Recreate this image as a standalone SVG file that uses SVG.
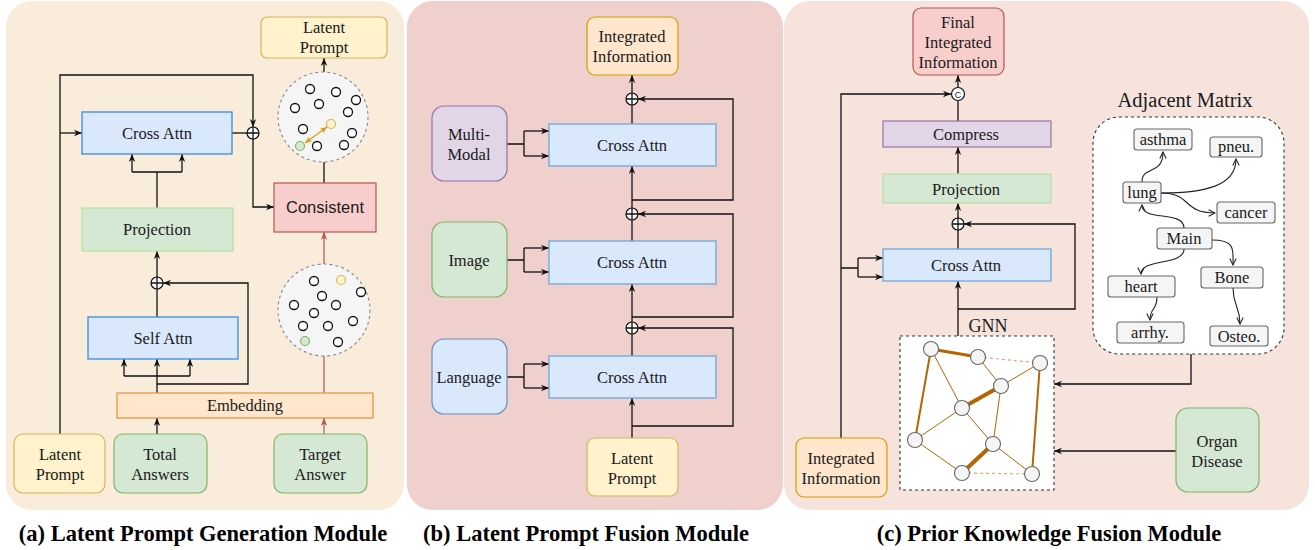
<svg xmlns="http://www.w3.org/2000/svg" width="1315" height="550" viewBox="0 0 1315 550">
<defs>
<marker id="ar" viewBox="0 0 10 10" refX="10" refY="5" markerWidth="8" markerHeight="8" markerUnits="userSpaceOnUse" orient="auto"><path d="M0,1 L10,5 L0,9 L3,5 z" fill="#111"/></marker>
<marker id="arr" viewBox="0 0 10 10" refX="10" refY="5" markerWidth="8" markerHeight="8" markerUnits="userSpaceOnUse" orient="auto"><path d="M0,1 L10,5 L0,9 L3,5 z" fill="#b85450"/></marker>
<marker id="aro" viewBox="0 0 10 10" refX="9" refY="5" markerWidth="8" markerHeight="8" markerUnits="userSpaceOnUse" orient="auto"><path d="M1,1 L9,5 L1,9" fill="none" stroke="#222" stroke-width="1.3"/></marker>
<marker id="arg" viewBox="0 0 10 10" refX="10" refY="5" markerWidth="7" markerHeight="7" markerUnits="userSpaceOnUse" orient="auto"><path d="M0,1 L10,5 L0,9 L3,5 z" fill="#d99a10"/></marker>
<marker id="args" viewBox="0 0 10 10" refX="10" refY="5" markerWidth="7" markerHeight="7" markerUnits="userSpaceOnUse" orient="auto-start-reverse"><path d="M0,1 L10,5 L0,9 L3,5 z" fill="#d99a10"/></marker>
</defs>
<style>
text{font-family:"Liberation Serif","Times New Roman",serif;font-size:16.5px;fill:#1a1a1a;text-anchor:middle}
.sans{font-family:"Liberation Sans",Arial,sans-serif}
.title{font-weight:bold;font-size:22.5px;fill:#000}
.ln{fill:none;stroke:#111;stroke-width:1.3}
.lnr{fill:none;stroke:#b85450;stroke-width:1.2}
.blue{fill:#dae8fc;stroke:#3d8ae0;stroke-width:1.3}
.blue2{fill:#dae8fc;stroke:#6ea6e0;stroke-width:1.3}
.lblue{fill:#dae8fc;stroke:#6c8ebf;stroke-width:1.2}
.green{fill:#d5e8d4;stroke:#82b366;stroke-width:1.2}
.pgreen{fill:#d5e8d4;stroke:#b9e0a5;stroke-width:1.3}
.yellow{fill:#fff2cc;stroke:#d6b656;stroke-width:1.2}
.orange{fill:#ffe6cc;stroke:#d79b00;stroke-width:1.2}
.red{fill:#f8cecc;stroke:#b85450;stroke-width:1.2}
.purple{fill:#e1d5e7;stroke:#9673a6;stroke-width:1.2}
.op{fill:#fff;stroke:#111;stroke-width:1.2}
.cl{fill:#f5f5f5;stroke:#888;stroke-width:1.1;stroke-dasharray:3 3}
.dot{fill:#fff;stroke:#111;stroke-width:1.3}
.gn{fill:#f5f5f5;stroke:#666;stroke-width:1.1}
.ge{stroke:#b46504;fill:none}
.gd{stroke:#e0a86a;stroke-width:1.2;stroke-dasharray:3 3;fill:none}
.ab{fill:#f5f5f5;stroke:#666;stroke-width:1.1}
.ac{fill:none;stroke:#222;stroke-width:1.1}
</style>

<!-- panels -->
<g id="panels">
<rect x="6" y="1" width="398" height="509" rx="26" fill="#f9ecda"/>
<rect x="407" y="1" width="376" height="509" rx="26" fill="#efd0cd"/>
<rect x="784" y="1" width="525" height="509" rx="26" fill="#f5e3dc"/>
</g>

<!-- connectors -->
<g id="connectors">
<!-- panel a -->
<path class="ln" d="M60,435 V75 H253 V127" marker-end="url(#ar)"/>
<path class="ln" d="M60,133 H82" marker-end="url(#ar)"/>
<path class="ln" d="M232,133 H247"/>
<path class="ln" d="M253,139 V207 H274" marker-end="url(#ar)"/>
<path class="ln" d="M157,208 V172 M132,172 H182"/>
<path class="ln" d="M132,172 V154" marker-end="url(#ar)"/>
<path class="ln" d="M182,172 V154" marker-end="url(#ar)"/>
<path class="ln" d="M324,183 V162"/>
<path class="ln" d="M324,72 V58" marker-end="url(#ar)"/>
<path class="ln" d="M157,277 V251" marker-end="url(#ar)"/>
<path class="ln" d="M157,317 V289"/>
<path class="ln" d="M157,384 H248 V283 H163" marker-end="url(#ar)"/>
<path class="ln" d="M157,393 V376 M124,376 H190"/>
<path class="ln" d="M124,376 V359" marker-end="url(#ar)"/>
<path class="ln" d="M157,376 V359" marker-end="url(#ar)"/>
<path class="ln" d="M190,376 V359" marker-end="url(#ar)"/>
<path class="ln" d="M157,434 V418" marker-end="url(#ar)"/>
<path class="lnr" d="M324,434 V418" marker-end="url(#arr)"/>
<path class="lnr" d="M324,393 V356"/>
<path class="lnr" d="M324,264 V232" marker-end="url(#arr)"/>
<!-- panel b -->
<path class="ln" d="M632,93 V75" marker-end="url(#ar)"/>
<path class="ln" d="M632,124 V105"/>
<path class="ln" d="M632,200 H733 V99 H638" marker-end="url(#ar)"/>
<path class="ln" d="M632,208 V166" marker-end="url(#ar)"/>
<path class="ln" d="M632,241 V220"/>
<path class="ln" d="M632,317 H733 V214 H638" marker-end="url(#ar)"/>
<path class="ln" d="M632,322 V284" marker-end="url(#ar)"/>
<path class="ln" d="M632,356 V334"/>
<path class="ln" d="M632,426 H733 V328 H638" marker-end="url(#ar)"/>
<path class="ln" d="M632,438 V398" marker-end="url(#ar)"/>
<path class="ln" d="M507,144 H524 M524,131 V156"/>
<path class="ln" d="M524,131 H549" marker-end="url(#ar)"/>
<path class="ln" d="M524,156 H549" marker-end="url(#ar)"/>
<path class="ln" d="M507,260 H524 M524,248 V272"/>
<path class="ln" d="M524,248 H549" marker-end="url(#ar)"/>
<path class="ln" d="M524,272 H549" marker-end="url(#ar)"/>
<path class="ln" d="M507,377 H524 M524,364 V388"/>
<path class="ln" d="M524,364 H549" marker-end="url(#ar)"/>
<path class="ln" d="M524,388 H549" marker-end="url(#ar)"/>
<!-- panel c -->
<path class="ln" d="M958,88 V75" marker-end="url(#ar)"/>
<path class="ln" d="M958,121 V101"/>
<path class="ln" d="M841,438 V94 H951" marker-end="url(#ar)"/>
<path class="ln" d="M841,268 H858 M858,258 V277"/>
<path class="ln" d="M858,258 H883" marker-end="url(#ar)"/>
<path class="ln" d="M858,277 H883" marker-end="url(#ar)"/>
<path class="ln" d="M958,174 V147" marker-end="url(#ar)"/>
<path class="ln" d="M958,218 V203" marker-end="url(#ar)"/>
<path class="ln" d="M958,249 V230"/>
<path class="ln" d="M958,309 H1075 V224 H964" marker-end="url(#ar)"/>
<path class="ln" d="M958,336 V281" marker-end="url(#ar)"/>
<path class="ln" d="M1191,354 V384 H1054" marker-end="url(#ar)"/>
<path class="ln" d="M1176,451 H1054" marker-end="url(#ar)"/>
</g>

<!-- panel a nodes -->
<g id="a-latent-top"><rect class="yellow" x="261" y="17" width="126" height="41" rx="6"/><text x="324" y="33">Latent</text><text x="324" y="53">Prompt</text></g>
<g id="a-cross-attn"><rect class="blue" x="82" y="112" width="150" height="42"/><text x="157" y="139">Cross Attn</text></g>
<g id="a-oplus1"><circle class="op" cx="253" cy="133" r="6"/><path class="ln" d="M247,133 H259 M253,127 V139"/></g>
<g id="a-projection"><rect class="pgreen" x="82" y="208" width="151" height="43"/><text x="157" y="235">Projection</text></g>
<g id="a-consistent"><rect class="red" x="274" y="183" width="102" height="49"/><text class="sans" x="325" y="213">Consistent</text></g>
<g id="a-cluster-top">
<circle class="cl" cx="323" cy="117" r="45"/>
<circle class="dot" cx="310" cy="89" r="4.5"/><circle class="dot" cx="336" cy="92" r="4.5"/><circle class="dot" cx="356" cy="100" r="4.5"/>
<circle class="dot" cx="319" cy="104" r="4.5"/><circle class="dot" cx="295" cy="108" r="4.5"/><circle class="dot" cx="348" cy="112" r="4.5"/>
<circle class="dot" cx="303" cy="129" r="4.5"/><circle class="dot" cx="352" cy="133" r="4.5"/><circle class="dot" cx="317" cy="146" r="4.5"/><circle class="dot" cx="344" cy="145" r="4.5"/>
<circle cx="331" cy="124" r="4.5" fill="#fff2cc" stroke="#d6b656" stroke-width="1.2"/>
<circle cx="300" cy="146" r="4.5" fill="#d5e8d4" stroke="#82b366" stroke-width="1.2"/>
<path d="M305,143 L327,127" stroke="#d99a10" stroke-width="1.2" fill="none" marker-start="url(#args)" marker-end="url(#arg)"/>
</g>
<g id="a-oplus2"><circle class="op" cx="157" cy="283" r="6"/><path class="ln" d="M151,283 H163 M157,277 V289"/></g>
<g id="a-self-attn"><rect class="blue" x="88" y="317" width="150" height="42"/><text x="163" y="344">Self Attn</text></g>
<g id="a-embedding"><rect x="117" y="393" width="256" height="25" fill="#ffe6cc" stroke="#e0923a" stroke-width="1.2"/><text x="245" y="411">Embedding</text></g>
<g id="a-cluster-bottom">
<circle class="cl" cx="324" cy="310" r="46"/>
<circle class="dot" cx="314" cy="281" r="4.5"/><circle class="dot" cx="361" cy="292" r="4.5"/><circle class="dot" cx="322" cy="296" r="4.5"/>
<circle class="dot" cx="294" cy="305" r="4.5"/><circle class="dot" cx="336" cy="305" r="4.5"/><circle class="dot" cx="314" cy="313" r="4.5"/>
<circle class="dot" cx="353" cy="321" r="4.5"/><circle class="dot" cx="303" cy="326" r="4.5"/><circle class="dot" cx="328" cy="326" r="4.5"/><circle class="dot" cx="338" cy="342" r="4.5"/>
<circle cx="341" cy="280" r="4.5" fill="#fff2cc" stroke="#d6b656" stroke-width="1.2"/>
<circle cx="305" cy="341" r="4.5" fill="#d5e8d4" stroke="#82b366" stroke-width="1.2"/>
</g>
<g id="a-latent-bottom"><rect class="yellow" x="14" y="434" width="91" height="59" rx="9"/><text x="60" y="460">Latent</text><text x="60" y="480">Prompt</text></g>
<g id="a-total-answers"><rect class="green" x="114" y="434" width="93" height="59" rx="9"/><text x="160" y="460">Total</text><text x="160" y="480">Answers</text></g>
<g id="a-target-answer"><rect class="green" x="274" y="434" width="93" height="59" rx="9"/><text x="320" y="460">Target</text><text x="320" y="480">Answer</text></g>

<!-- panel b nodes -->
<g id="b-integrated"><rect class="orange" x="587" y="17" width="91" height="58" rx="8"/><text x="632" y="42">Integrated</text><text x="632" y="62">Information</text></g>
<g id="b-oplus1"><circle class="op" cx="632" cy="99" r="6"/><path class="ln" d="M626,99 H638 M632,93 V105"/></g>
<g id="b-cross1"><rect class="blue2" x="549" y="124" width="167" height="42"/><text x="632" y="151">Cross Attn</text></g>
<g id="b-multimodal"><rect class="purple" x="432" y="106" width="75" height="75" rx="12"/><text x="469" y="140">Multi-</text><text x="469" y="160">Modal</text></g>
<g id="b-oplus2"><circle class="op" cx="632" cy="214" r="6"/><path class="ln" d="M626,214 H638 M632,208 V220"/></g>
<g id="b-cross2"><rect class="blue2" x="549" y="241" width="167" height="43"/><text x="632" y="268">Cross Attn</text></g>
<g id="b-image"><rect class="green" x="432" y="222" width="75" height="75" rx="12"/><text x="469" y="266">Image</text></g>
<g id="b-oplus3"><circle class="op" cx="632" cy="328" r="6"/><path class="ln" d="M626,328 H638 M632,322 V334"/></g>
<g id="b-cross3"><rect class="blue2" x="549" y="356" width="167" height="42"/><text x="632" y="383">Cross Attn</text></g>
<g id="b-language"><rect class="lblue" x="432" y="339" width="75" height="75" rx="12"/><text x="469" y="383">Language</text></g>
<g id="b-latent"><rect class="yellow" x="587" y="438" width="91" height="58" rx="8"/><text x="632" y="464">Latent</text><text x="632" y="484">Prompt</text></g>

<!-- panel c nodes -->
<g id="c-final"><rect class="red" x="913" y="8" width="91" height="67" rx="8"/><text x="958" y="28">Final</text><text x="958" y="48">Integrated</text><text x="958" y="68">Information</text></g>
<g id="c-concat"><circle class="op" cx="958" cy="94" r="6.5"/><text class="sans" x="958" y="97.5" style="font-size:9px">C</text></g>
<g id="c-compress"><rect class="purple" x="883" y="121" width="168" height="26"/><text x="966" y="140">Compress</text></g>
<g id="c-projection"><rect class="pgreen" x="883" y="174" width="168" height="29"/><text x="966" y="195">Projection</text></g>
<g id="c-oplus"><circle class="op" cx="958" cy="224" r="6"/><path class="ln" d="M952,224 H964 M958,218 V230"/></g>
<g id="c-cross"><rect class="blue2" x="883" y="249" width="168" height="32"/><text x="966" y="271">Cross Attn</text></g>
<g id="c-gnn">
<text x="988" y="332" style="font-size:18px">GNN</text>
<rect x="900" y="336" width="154" height="154" fill="#fff" stroke="#333" stroke-width="1.1" stroke-dasharray="3 3"/>
<path class="ge" stroke-width="3" d="M931,349 L978,357"/>
<path class="gd" d="M978,357 L1040,363"/>
<path class="ge" stroke-width="1" d="M978,357 L1001,386"/>
<path class="ge" stroke-width="2" d="M931,349 L915,440"/>
<path class="ge" stroke-width="1" d="M931,349 L962,408"/>
<path class="ge" stroke-width="1" d="M1001,386 L1040,363"/>
<path class="ge" stroke-width="4" d="M1001,386 L962,408"/>
<path class="ge" stroke-width="1" d="M1001,386 L993,444"/>
<path class="ge" stroke-width="2" d="M1040,363 L1032,474"/>
<path class="ge" stroke-width="1" d="M962,408 L915,440"/>
<path class="ge" stroke-width="1" d="M962,408 L993,444"/>
<path class="ge" stroke-width="1" d="M915,440 L962,473"/>
<path class="ge" stroke-width="4" d="M993,444 L962,473"/>
<path class="ge" stroke-width="1" d="M993,444 L1032,474"/>
<path class="gd" d="M962,473 L1032,474"/>
<circle class="gn" cx="931" cy="349" r="7.5"/><circle class="gn" cx="978" cy="357" r="7.5"/><circle class="gn" cx="1040" cy="363" r="7.5"/>
<circle class="gn" cx="1001" cy="386" r="7.5"/><circle class="gn" cx="962" cy="408" r="7.5"/><circle class="gn" cx="915" cy="440" r="7.5"/>
<circle class="gn" cx="993" cy="444" r="7.5"/><circle class="gn" cx="962" cy="473" r="7.5"/><circle class="gn" cx="1032" cy="474" r="7.5"/>
</g>
<g id="c-adjacent">
<text x="1185" y="107" style="font-size:20.5px">Adjacent Matrix</text>
<rect x="1093" y="117" width="191" height="237" rx="26" fill="#fff" stroke="#333" stroke-width="1.1" stroke-dasharray="3 3"/>
<path class="ac" d="M1142,182 C1142,165 1163,176 1163,152" marker-end="url(#aro)"/>
<path class="ac" d="M1161,193 C1205,193 1236,186 1236,159" marker-end="url(#aro)"/>
<path class="ac" d="M1161,193 C1192,193 1182,213 1215,213" marker-end="url(#aro)"/>
<path class="ac" d="M1184,228 C1184,210 1142,222 1142,205" marker-end="url(#aro)"/>
<path class="ac" d="M1184,249 C1184,266 1141,258 1141,274" marker-end="url(#aro)"/>
<path class="ac" d="M1212,240 C1236,240 1233,250 1233,265" marker-end="url(#aro)"/>
<path class="ac" d="M1157,297 C1157,311 1150,307 1150,320" marker-end="url(#aro)"/>
<path class="ac" d="M1233,288 C1233,306 1240,306 1240,324" marker-end="url(#aro)"/>
<rect class="ab" x="1134" y="129" width="58" height="21" rx="3"/><text x="1163" y="145">asthma</text>
<rect class="ab" x="1210" y="137" width="52" height="20" rx="3"/><text x="1236" y="152">pneu.</text>
<rect class="ab" x="1123" y="182" width="38" height="21" rx="3"/><text x="1142" y="198">lung</text>
<rect class="ab" x="1217" y="202" width="58" height="21" rx="3"/><text x="1246" y="218">cancer</text>
<rect class="ab" x="1157" y="228" width="55" height="21" rx="3"/><text x="1184" y="244">Main</text>
<rect class="ab" x="1108" y="276" width="67" height="21" rx="3"/><text x="1141" y="292">heart</text>
<rect class="ab" x="1201" y="267" width="62" height="21" rx="3"/><text x="1232" y="283">Bone</text>
<rect class="ab" x="1117" y="322" width="67" height="21" rx="3"/><text x="1150" y="338">arrhy.</text>
<rect class="ab" x="1210" y="326" width="58" height="20" rx="3"/><text x="1239" y="342">Osteo.</text>
</g>
<g id="c-integrated"><rect class="orange" x="796" y="438" width="91" height="59" rx="8"/><text x="841" y="464">Integrated</text><text x="841" y="484">Information</text></g>
<g id="c-organ"><rect class="green" x="1176" y="408" width="83" height="84" rx="12"/><text x="1217" y="447">Organ</text><text x="1217" y="467">Disease</text></g>

<!-- titles -->
<g id="titles">
<text class="title" x="203" y="541">(a) Latent Prompt Generation Module</text>
<text class="title" x="586" y="541">(b) Latent Prompt Fusion Module</text>
<text class="title" x="1049" y="541">(c) Prior Knowledge Fusion Module</text>
</g>
</svg>
